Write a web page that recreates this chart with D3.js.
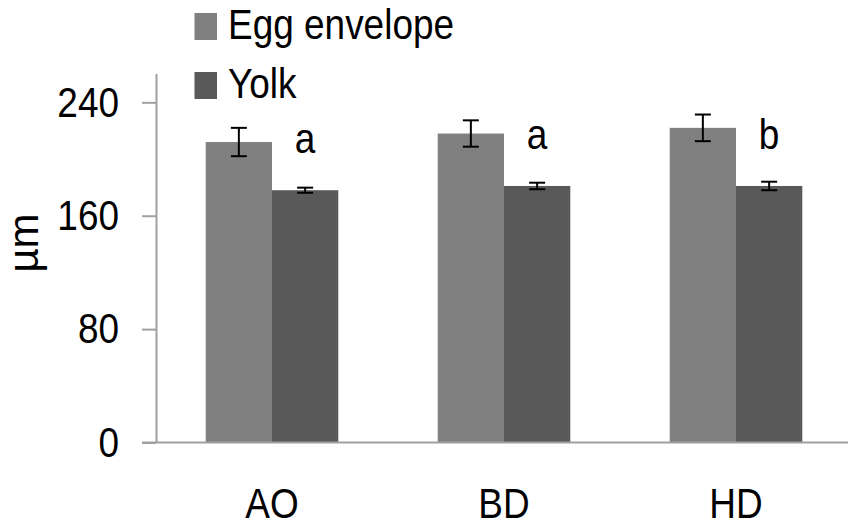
<!DOCTYPE html>
<html>
<head>
<meta charset="utf-8">
<script src="https://cdn.jsdelivr.net/npm/d3@7"></script>
<style>
  html, body { margin: 0; padding: 0; background: #fff; }
  svg { display: block; }
  text { font-family: "Liberation Sans", Arial, sans-serif; fill: #000; }
</style>
</head>
<body>
<svg id="chart" width="848" height="526"></svg>
<script>
// Egg envelope and yolk diameters (µm) per group, mean ± error
const categories = ["AO", "BD", "HD"];
const seriesNames = ["Egg envelope", "Yolk"];
const envelopeMean = [212, 218, 222];
const envelopeErr = [10, 9.3, 9.4];
const yolkMean = [178, 181, 181];
const yolkErr = [1.8, 2.3, 3];
const groupLetters = ["a", "a", "b"];
const yTicks = [0, 80, 160, 240];
const yTitle = "µm";

const seriesColors = ["#808080", "#595959"];
const FONT = 42;
const SQUEEZE = 0.88;

const svg = d3.select("#chart");

const series = [
  { name: seriesNames[0], mean: envelopeMean, err: envelopeErr },
  { name: seriesNames[1], mean: yolkMean, err: yolkErr }
];

const x0 = d3.scaleBand()
  .domain(categories)
  .range([156, 852])
  .paddingInner(3 / 7)
  .paddingOuter(1.5 / 7);

const x1 = d3.scaleBand()
  .domain(seriesNames)
  .range([0, x0.bandwidth()]);

const y = d3.scaleLinear()
  .domain([0, 260])
  .range([442.5, 74]);

const color = d3.scaleOrdinal().domain(seriesNames).range(seriesColors);

// narrow the horizontal text a little, as in the original figure
function squeeze(sel) {
  sel.each(function () {
    const len = this.getComputedTextLength();
    d3.select(this)
      .attr("textLength", len * SQUEEZE)
      .attr("lengthAdjust", "spacingAndGlyphs");
  });
}

// bars
const groups = svg.append("g")
  .selectAll("g")
  .data(categories)
  .join("g")
  .attr("transform", d => `translate(${x0(d)},0)`);

groups.selectAll("rect")
  .data((c, i) => series.map(s => ({ s: s.name, v: s.mean[i] })))
  .join("rect")
  .attr("x", d => x1(d.s))
  .attr("y", d => y(d.v))
  .attr("width", x1.bandwidth())
  .attr("height", d => y(0) - y(d.v))
  .attr("fill", d => color(d.s));

// error bars
const capHalf = 8;
const errData = [];
categories.forEach((c, i) => {
  series.forEach(s => {
    errData.push({ c, s: s.name, m: s.mean[i], e: s.err[i] });
  });
});
const eb = svg.append("g")
  .attr("stroke", "#000")
  .attr("stroke-width", 2)
  .selectAll("g")
  .data(errData)
  .join("g")
  .attr("transform", d => `translate(${x0(d.c) + x1(d.s) + x1.bandwidth() / 2},0)`);
eb.append("line")
  .attr("x1", 0).attr("x2", 0)
  .attr("y1", d => y(d.m + d.e)).attr("y2", d => y(d.m - d.e));
eb.append("line")
  .attr("x1", -capHalf).attr("x2", capHalf)
  .attr("y1", d => y(d.m + d.e)).attr("y2", d => y(d.m + d.e));
eb.append("line")
  .attr("x1", -capHalf).attr("x2", capHalf)
  .attr("y1", d => y(d.m - d.e)).attr("y2", d => y(d.m - d.e));

// significance letters above the yolk bars
svg.append("g")
  .selectAll("text")
  .data(categories)
  .join("text")
  .attr("x", (c) => x0(c) + x1(seriesNames[1]) + x1.bandwidth() / 2)
  .attr("y", (c, i) => y(yolkMean[i]) - 37)
  .attr("text-anchor", "middle")
  .attr("font-size", FONT)
  .text((c, i) => groupLetters[i])
  .call(squeeze);

// y axis
const yAxis = d3.axisLeft(y).tickValues(yTicks).tickSize(14).tickPadding(23).tickSizeOuter(0);
const gy = svg.append("g")
  .attr("transform", `translate(${x0.range()[0]},0)`)
  .call(yAxis);
gy.select(".domain").attr("stroke", "#a0a0a0").attr("stroke-width", 2)
  .attr("d", `M0.5,${y(260)}V${y(0)}`);
gy.selectAll(".tick line").attr("stroke", "#a0a0a0").attr("stroke-width", 2);
gy.selectAll(".tick text")
  .attr("font-size", FONT)
  .attr("font-family", "Liberation Sans, Arial, sans-serif")
  .attr("fill", "#000")
  .attr("dy", "0.33em")
  .call(squeeze);

// x axis baseline and category labels
svg.append("line")
  .attr("x1", 142).attr("x2", 848)
  .attr("y1", y(0)).attr("y2", y(0))
  .attr("stroke", "#a0a0a0").attr("stroke-width", 2);

svg.append("g")
  .selectAll("text")
  .data(categories)
  .join("text")
  .attr("x", d => x0(d) + x0.bandwidth() / 2)
  .attr("y", 518)
  .attr("text-anchor", "middle")
  .attr("font-size", FONT)
  .text(d => d)
  .call(squeeze);

// axis title
svg.append("text")
  .attr("transform", "translate(38,243) rotate(-90)")
  .attr("text-anchor", "middle")
  .attr("font-size", FONT)
  .text(yTitle);

// legend
const legend = svg.append("g")
  .selectAll("g")
  .data(seriesNames)
  .join("g")
  .attr("transform", (d, i) => `translate(0,${39 + i * 59})`);
legend.append("rect")
  .attr("x", 194.5).attr("y", -26)
  .attr("width", 22.5).attr("height", 27)
  .attr("fill", d => color(d));
legend.append("text")
  .attr("x", 228).attr("y", 0)
  .attr("font-size", FONT)
  .text(d => d)
  .call(squeeze);
</script>
</body>
</html>
